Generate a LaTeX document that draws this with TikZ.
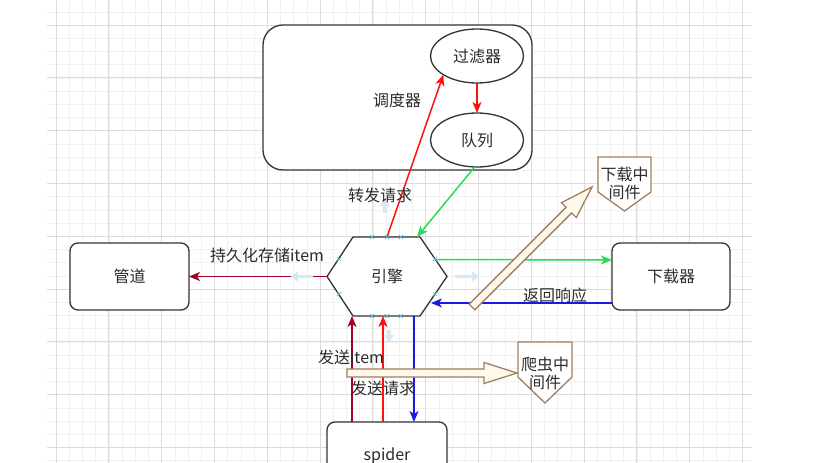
\documentclass[tikz,border=0pt]{standalone}
\usepackage{fontspec}
\newfontfamily\cjk{Noto Sans CJK SC}
\usetikzlibrary{arrows.meta,positioning,calc,shapes.geometric}

\definecolor{txtgray}{HTML}{2B2B2B}
\definecolor{boxgray}{HTML}{333333}
\definecolor{linered}{HTML}{FF1010}
\definecolor{linegreen}{HTML}{22DD55}
\definecolor{lineblue}{HTML}{1A1AE0}
\definecolor{linecrimson}{HTML}{A20025}
\definecolor{mwbrown}{HTML}{A0805F}
\definecolor{arrowfill}{HTML}{FFF8EC}
\definecolor{hoverblue}{HTML}{D8E8F4}
\definecolor{markcyan}{HTML}{5AAFD0}
\definecolor{gridmajor}{HTML}{DCDCDC}
\definecolor{gridminor}{HTML}{F1F1F1}

\begin{document}
\begin{tikzpicture}[x=1pt, y=-1pt,
  txt/.style={font=\cjk\fontsize{16}{18}\selectfont, text=txtgray},
  box/.style={txt, draw=boxgray, line width=1.3pt, rounded corners=8pt, fill=white, minimum width=119pt, minimum height=67pt, outer sep=0pt},
  oval/.style={txt, ellipse, draw=boxgray, line width=1.3pt, fill=white, minimum width=93pt, minimum height=54pt, outer sep=0pt, inner sep=0pt},
  frame/.style={draw=boxgray, line width=1.3pt, rounded corners=20pt, fill=white, minimum width=269pt, minimum height=145pt, outer sep=0pt},
  core/.style={txt, align=center, inner sep=0pt, outer sep=0pt},
  shapeline/.style={draw=boxgray, line width=1.3pt, fill=white},
  mwline/.style={draw=mwbrown, line width=1.3pt, fill=white},
  lbl/.style={txt, inner sep=0pt},
  arr/.style={-{Stealth[length=11pt, width=9pt, inset=3pt]}, line width=1.5pt},
  hover/.style={-{Triangle[length=7pt, width=10pt]}, line width=3.5pt, hoverblue},
  minorgrid/.style={gridminor, line width=0.6pt},
  majorgrid/.style={gridmajor, line width=0.8pt},
  hollowarrow/.pic={\draw[mwline, fill=arrowfill] (0,-4) -- (137,-4) -- (137,-10.5) -- (170,0) -- (137,10.5) -- (137,4) -- (0,4) -- cycle;}
]
\useasboundingbox (0,0) rectangle (814,463);
\clip (0,0) rectangle (814,463);

% grid
\begin{scope}
\clip (47,0) rectangle (752,463);
\foreach \k in {0,...,54} \draw[minorgrid] ({42.8+13.2*\k},0) -- ({42.8+13.2*\k},463);
\foreach \k in {0,...,36} \draw[minorgrid] (47,{-1.4+13.2*\k}) -- (752,{-1.4+13.2*\k});
\foreach \k in {0,...,13} \draw[majorgrid] ({56+52.8*\k},0) -- ({56+52.8*\k},463);
\foreach \k in {0,...,8} \draw[majorgrid] (47,{25+52.8*\k}) -- (752,{25+52.8*\k});
\end{scope}

% scheduler
\node[frame] (sched) at (397.5,97.5) {};
\node[oval] (filter) at (477,56) {过滤器};
\node[oval] (queue) at (477,140) {队列};

% engine
\coordinate (ectr) at (387,276.5);
\draw[shapeline] ($(ectr)+(-60,0)$) -- ($(ectr)+(-34,-39.5)$) -- ($(ectr)+(33,-39.5)$) -- ($(ectr)+(60,0)$) -- ($(ectr)+(33,39.5)$) -- ($(ectr)+(-34,39.5)$) -- cycle;
\node[core, minimum width=120pt, minimum height=79pt] (engine) at (ectr) {引擎};

\node[box] (pipe) at (129.5,276.5) {管道};
\node[box, minimum width=118pt] (loader) at (671,276.5) {下载器};
\node[box, minimum width=120pt] (spider) at (387,455.5) {spider};

% middlewares
\coordinate (m1ctr) at (624.5,184);
\draw[mwline] ($(m1ctr)+(-26.5,-27)$) -- ($(m1ctr)+(26.5,-27)$) -- ($(m1ctr)+(26.5,8)$) -- ($(m1ctr)+(0,27)$) -- ($(m1ctr)+(-26.5,8)$) -- cycle;
\node[core, minimum width=53pt, minimum height=54pt] (dlmw) at ($(m1ctr)+(0,-1)$) {下载中\\间件};
\coordinate (m2ctr) at (545,372.5);
\draw[mwline] ($(m2ctr)+(-27,-30.5)$) -- ($(m2ctr)+(27,-30.5)$) -- ($(m2ctr)+(27,4.5)$) -- ($(m2ctr)+(0,30.5)$) -- ($(m2ctr)+(-27,4.5)$) -- cycle;
\node[core, minimum width=54pt, minimum height=61pt] (spmw) at ($(m2ctr)+(0,1)$) {爬虫中\\间件};

% connectors
\draw[arr, linered] (filter.south) -- (queue.north);
\draw[arr, linered] (engine.north) -- (filter.209);
\draw[arr, linegreen] (queue.265) -- ($(engine.north east)+(-30,0)$);
\draw[arr, linegreen] ($(engine.east)+(-12,-17)$) -- ($(loader.west)+(0,-16.5)$);
\draw[arr, lineblue] ($(loader.west)+(0,26.5)$) -- ($(engine.east)+(-16,26.5)$);
\draw[arr, linecrimson] (engine.west) -- (pipe.east);
\draw[arr, linecrimson] ($(spider.north)+(-35,0)$) -- ($(engine.south)+(-35,0)$);
\draw[arr, linered] ($(spider.north)+(-4,0)$) -- ($(engine.south)+(-4,0)$);
\draw[arr, lineblue] ($(engine.south)+(27,0)$) -- ($(spider.north)+(27,0)$);

% hover hints
\draw[hover] ($(engine.west)+(-14,0)$) -- ++(-22,0);
\draw[hover] ($(engine.east)+(8,0)$) -- ++(24,0);
\draw[hover] ($(engine.north)+(-2,-24)$) -- ++(0,-14);
\draw[hover] ($(engine.south)+(2,14)$) -- ++(0,12);
\foreach \p in {(372,237),(387,237),(401,237),(372,316),(387,316),(401,316),(339,259),(339,294),(435,259),(435,294)}
  \draw[markcyan, line width=0.7pt] \p ++(-2,-2) -- ++(4,4) \p ++(-2,2) -- ++(4,-4);

% labels
\node[lbl] at (397,100) {调度器};
\node[lbl] at (380,195) {转发请求};
\node[lbl] at (267,255) {持久化存储item};
\node[lbl] at (555,295) {返回响应};
\node[lbl] at (351,357) {发送item};
\node[lbl] at (383,388) {发送请求};

% middleware arrows
\pic[rotate=45] at (472,307) {hollowarrow};
\pic at (347,373) {hollowarrow};
\end{tikzpicture}
\end{document}
